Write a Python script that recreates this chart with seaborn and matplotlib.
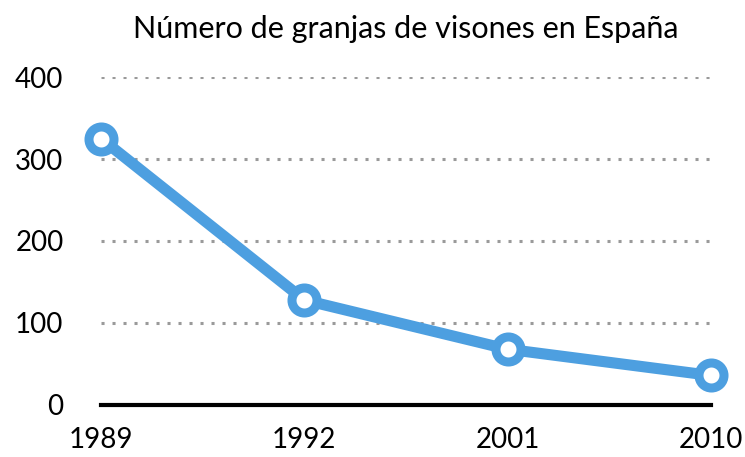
import pandas as pd
import matplotlib.pyplot as plt
import seaborn as sns

years = ["1989", "1992", "2001", "2010"]
farms = [325, 128, 68, 36]
title = "Número de granjas de visones en España"

line_color = "#4d9fe0"

sns.set_style("white")
plt.rcParams['font.family'] = ['Lato', 'DejaVu Sans']

df = pd.DataFrame({"year": years, "farms": farms})

fig = plt.figure(figsize=(7.45, 4.57), dpi=100)
ax = fig.add_axes([0.1356, 0.1138, 0.8188, 0.7177])

# dotted horizontal guides
for y in [100, 200, 300, 400]:
    ax.axhline(y, color="#9a9a9a", lw=2.2, linestyle=(0, (1, 2.6)), zorder=1)

sns.lineplot(data=df, x="year", y="farms", sort=False, ax=ax,
             color=line_color, lw=8, marker="o", markersize=18,
             markeredgewidth=6.5, markeredgecolor=line_color,
             markerfacecolor="white", clip_on=False, zorder=3)

ax.set_xlim(0, 3)
ax.set_ylim(0, 400)
ax.set_yticks([0, 100, 200, 300, 400])
ax.set_xlabel("")
ax.set_ylabel("")
ax.grid(False)
for side in ["top", "right", "left"]:
    ax.spines[side].set_visible(False)
ax.spines["bottom"].set_color("black")
ax.spines["bottom"].set_linewidth(3)
ax.spines["bottom"].set_zorder(2)
ax.tick_params(axis="y", length=0, pad=27, labelsize=20, labelcolor="black")
ax.tick_params(axis="x", length=0, pad=16, labelsize=20, labelcolor="black")
fig.suptitle(title, fontsize=22, x=0.545, y=0.967, color="black")

plt.savefig("out.png", dpi=100)
